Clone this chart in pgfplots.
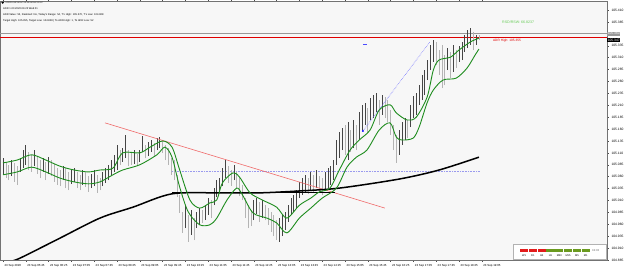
\documentclass[border=0pt]{standalone}
\usepackage{pgfplots}
\pgfplotsset{compat=1.18}
\usepackage{pgfplotstable}
\usepackage{fontspec}
\setmainfont{Liberation Sans}
\definecolor{mtgreen}{HTML}{1E8C1E}
\definecolor{trendred}{HTML}{F06A6A}
\definecolor{adrred}{HTML}{E00000}
\definecolor{lav}{HTML}{9A9AEE}
\definecolor{lightgreen}{HTML}{66CC55}
\definecolor{boxred}{HTML}{E31B1B}
\definecolor{boxgreen}{HTML}{6A9A1F}
\definecolor{bardark}{HTML}{454545}
\definecolor{barlight}{HTML}{B4B4B4}

\pgfplotstableread{
i hi lo c
0 105.099 105.064 1
1 105.091 105.057 0
2 105.085 105.053 0
3 105.095 105.061 1
4 105.089 105.049 0
5 105.082 105.043 0
6 105.099 105.070 1
7 105.116 105.078 1
8 105.127 105.085 1
9 105.112 105.074 0
10 105.106 105.070 0
11 105.116 105.082 1
12 105.103 105.066 0
13 105.095 105.057 0
14 105.099 105.070 1
15 105.091 105.053 0
16 105.101 105.066 1
17 105.095 105.061 0
18 105.087 105.049 0
19 105.078 105.043 0
20 105.074 105.040 0
21 105.082 105.053 1
22 105.078 105.036 0
23 105.070 105.032 0
24 105.074 105.045 1
25 105.078 105.049 1
26 105.070 105.036 0
27 105.064 105.032 0
28 105.074 105.043 1
29 105.070 105.038 0
30 105.061 105.028 0
31 105.066 105.036 1
32 105.074 105.040 1
33 105.064 105.026 0
34 105.057 105.032 0
35 105.070 105.040 1
36 105.078 105.047 1
37 105.085 105.053 1
38 105.095 105.061 1
39 105.106 105.070 1
40 105.127 105.074 1
41 105.116 105.085 0
42 105.120 105.091 1
43 105.148 105.099 1
44 105.116 105.082 0
45 105.112 105.085 0
46 105.116 105.087 1
47 105.108 105.082 0
48 105.116 105.091 1
49 105.145 105.112 1
50 105.127 105.099 0
51 105.133 105.103 1
52 105.137 105.112 1
53 105.131 105.103 0
54 105.141 105.116 1
55 105.143 105.120 1
56 105.137 105.110 0
57 105.127 105.095 0
58 105.120 105.085 0
59 105.099 105.064 0
60 105.095 105.053 0
61 105.064 105.017 0
62 105.022 104.984 0
63 104.986 104.942 0
64 105.000 104.952 1
65 104.980 104.923 0
66 104.990 104.938 1
67 104.973 104.927 0
68 104.986 104.952 1
69 104.994 104.959 1
70 104.990 104.963 0
71 105.000 104.969 1
72 105.015 104.980 1
73 105.011 104.973 0
74 105.036 105.000 1
75 105.053 105.017 1
76 105.057 105.028 1
77 105.078 105.040 1
78 105.095 105.057 1
79 105.082 105.047 0
80 105.074 105.040 0
81 105.085 105.053 1
82 105.070 105.036 0
83 105.057 105.019 0
84 105.043 105.011 0
85 105.015 104.973 0
86 105.000 104.952 0
87 104.990 104.956 0
88 105.011 104.969 1
89 105.015 104.982 1
90 105.007 104.965 0
91 105.011 104.973 1
92 105.000 104.969 0
93 104.994 104.959 0
94 104.986 104.944 0
95 104.980 104.935 0
96 104.969 104.927 0
97 104.973 104.923 1
98 104.980 104.935 1
99 104.986 104.948 1
100 105.000 104.965 1
101 105.015 104.980 1
102 105.022 104.986 1
103 105.032 104.994 1
104 105.049 105.015 1
105 105.057 105.022 1
106 105.064 105.028 1
107 105.057 105.024 0
108 105.070 105.032 1
109 105.064 105.028 0
110 105.074 105.036 1
111 105.061 105.026 0
112 105.057 105.022 0
113 105.070 105.032 1
114 105.078 105.036 1
115 105.082 105.043 1
116 105.095 105.053 1
117 105.137 105.085 1
118 105.154 105.099 1
119 105.162 105.116 1
120 105.169 105.106 0
121 105.175 105.095 1
122 105.158 105.112 0
123 105.179 105.120 1
124 105.169 105.116 0
125 105.196 105.137 1
126 105.211 105.158 1
127 105.215 105.169 1
128 105.204 105.152 0
129 105.225 105.179 1
130 105.232 105.183 1
131 105.236 105.196 1
132 105.221 105.169 0
133 105.232 105.190 1
134 105.227 105.183 0
135 105.221 105.175 0
136 105.200 105.148 0
137 105.169 105.116 0
138 105.148 105.089 0
139 105.158 105.106 1
140 105.175 105.127 1
141 105.183 105.137 1
142 105.179 105.141 0
143 105.211 105.164 1
144 105.229 105.183 1
145 105.236 105.190 1
146 105.252 105.211 1
147 105.274 105.221 1
148 105.284 105.232 1
149 105.305 105.263 1
150 105.337 105.284 1
151 105.347 105.301 1
152 105.343 105.295 0
153 105.326 105.274 0
154 105.337 105.246 0
155 105.315 105.252 0
156 105.330 105.284 1
157 105.322 105.267 0
158 105.337 105.280 1
159 105.326 105.288 0
160 105.334 105.301 1
161 105.343 105.305 1
162 105.358 105.322 1
163 105.368 105.330 1
164 105.372 105.337 1
165 105.364 105.326 0
166 105.358 105.337 1
167 105.358 105.347 0
}\bars

\pgfplotstableread{
x y
0 105.089
5 105.095
10 105.106
15 105.095
20 105.082
25 105.074
30 105.070
34 105.074
38.6 105.078
42 105.110
48 105.110
51.6 105.122
56 105.135
59.3 105.122
62 105.074
65.6 105.011
69 104.994
72.6 105.005
75 105.011
77 105.047
80.7 105.068
83 105.059
86.7 105.026
91 105.011
96 104.996
99.6 104.973
104 105.000
108 105.015
111 105.028
114.7 105.036
118 105.074
121.8 105.116
125 105.137
128.8 105.158
132 105.200
135.8 105.211
138 105.194
141.8 105.179
145 105.185
148.8 105.227
151 105.284
153 105.305
157 105.311
160 105.326
164 105.343
167 105.351
}\upperband

\pgfplotstableread{
x y
0 105.064
5 105.070
10 105.080
15 105.070
20 105.057
25 105.049
30 105.045
34 105.049
38.6 105.064
42 105.074
48 105.085
54 105.106
56.8 105.122
59.3 105.101
62 105.038
65 104.986
69 104.959
72.6 104.959
75 104.973
78.6 105.011
82 105.036
84 105.022
87.7 104.984
92.6 104.973
96 104.963
99.6 104.942
104 104.973
108 104.994
112 105.015
117 105.036
120.7 105.080
124 105.101
127.7 105.116
132 105.158
135.8 105.173
138 105.143
140 105.137
143.9 105.141
146 105.164
148.8 105.215
151 105.242
154.4 105.263
159 105.267
162.8 105.288
165.6 105.315
167 105.328
}\lowerband

\pgfplotstableread{
x y
2 104.881
6 104.889
20 104.931
34 104.973
45.6 104.996
59.3 105.024
76 105.026
90 105.026
104 105.030
118 105.036
139 105.055
153 105.074
167 105.101
}\maline

\begin{document}
\begin{tikzpicture}[x=1pt,y=1pt]
\begin{axis}[
  scale only axis, width=607pt, height=259pt,
  xmin=-1.053, xmax=211.93, ymin=104.885, ymax=105.429,
  clip mode=individual,
  axis background/.style={fill=black!3},
  axis line style={draw=black!55, line width=0.5pt},
  tick align=outside, major tick length=2pt,
  tick style={black!70, line width=0.4pt},
  yticklabel pos=right,
  ytick={104.885,104.910,104.935,104.960,104.985,105.010,105.035,105.060,105.085,105.110,105.135,105.160,105.185,105.210,105.235,105.260,105.285,105.310,105.335,105.385,105.410},
  yticklabel style={font=\fontsize{3.3}{4}\selectfont, /pgf/number format/fixed, /pgf/number format/fixed zerofill, /pgf/number format/precision=3, /pgf/number format/1000 sep={}, /pgf/number format/assume math mode=true, xshift=-1pt},
  xtick={0,8,...,168},
  xticklabels={23 Sep 2020, 23 Sep 05:45, 23 Sep 06:25, 23 Sep 07:05, 23 Sep 07:45, 23 Sep 08:25, 23 Sep 09:05, 23 Sep 09:45, 23 Sep 10:25, 23 Sep 11:05, 23 Sep 11:45, 23 Sep 12:25, 23 Sep 13:05, 23 Sep 13:45, 23 Sep 14:25, 23 Sep 15:05, 23 Sep 15:45, 23 Sep 16:25, 23 Sep 17:05, 23 Sep 17:45, 23 Sep 18:25, 23 Sep 19:05},
  xticklabel style={font=\fontsize{2.9}{3.5}\selectfont, anchor=north west, xshift=-2pt, yshift=1pt},
]
% reference lines
\addplot[black!40, line width=0.7pt, forget plot] coordinates {(-1.053,105.360) (211.93,105.360)};
\addplot[adrred, line width=0.7pt, forget plot] coordinates {(-1.053,105.352) (211.93,105.352)};
\addplot[lav, densely dotted, line width=0.6pt, forget plot] coordinates {(59.3,105.072) (167.4,105.072)};
% bars
\addplot[draw=none, mark=none, forget plot, restrict expr to domain={\thisrow{c}}{-0.5:0.5},
  error bars/.cd, y dir=plus, y explicit, error mark=none,
  error bar style={draw=barlight, line width=0.65pt}]
  table[x=i, y=lo, y error expr=\thisrow{hi}-\thisrow{lo}] {\bars};
\addplot[draw=none, mark=none, forget plot, restrict expr to domain={\thisrow{c}}{0.5:1.5},
  error bars/.cd, y dir=plus, y explicit, error mark=none,
  error bar style={draw=bardark, line width=0.65pt}]
  table[x=i, y=lo, y error expr=\thisrow{hi}-\thisrow{lo}] {\bars};
% trend lines
\addplot[trendred, line width=0.6pt] coordinates {(35.8,105.173) (134,104.994)};
\addplot[blue!55, densely dotted, line width=0.6pt] coordinates {(126.3,105.156) (149.8,105.343)};
\addplot[only marks, mark=*, mark size=0.7pt, blue] coordinates {(126.3,105.156)};
\addplot[blue!70, line width=0.5pt] coordinates {(126.3,105.339) (127.7,105.339)};
% moving averages
\addplot[black, line width=1.2pt] coordinates {(59.3,105.026) (116.5,105.026)};
\addplot[black, line width=1.5pt, smooth, tension=0.5] table[x=x,y=y] {\maline};
\addplot[mtgreen, line width=0.9pt, smooth, tension=0.5] table[x=x,y=y] {\upperband};
\addplot[mtgreen, line width=0.9pt, smooth, tension=0.5] table[x=x,y=y] {\lowerband};
% texts
\node[anchor=west, text=adrred, font=\fontsize{3.2}{4}\selectfont, inner sep=0] at (axis cs:171.9,105.346) {ADR High: 105.355};
\node[anchor=west, text=lightgreen, font=\fontsize{3.6}{4}\selectfont, inner sep=0] at (axis cs:175.1,105.385) {RSD/RSW: 66.8237};
\node[anchor=west, fill=black!40, text=white, font=\fontsize{3.3}{4}\selectfont, inner sep=0.6pt] at (axis cs:211.93,105.360) {105.360};
\node[anchor=west, fill=black, text=white, font=\fontsize{3.3}{4}\selectfont, inner sep=0.6pt] at (axis cs:211.93,105.347) {105.347};
\coordinate (ll) at (rel axis cs:0,0);
\end{axis}
\pgfresetboundingbox
\begin{scope}[shift={(ll)}, yshift=-10pt]
\path[use as bounding box] (0,0) rectangle (625,270);
% header text
\begin{scope}[every node/.style={anchor=west, inner sep=0, font=\fontsize{2.6}{3}\selectfont}]
\fill[black] (1.2,268) -- (4.2,268) -- (2.7,266) -- cycle;
\node at (5.5,266.8) {\resizebox{37pt}{!}{USDJPY-A,M5  105.347 105.358 105.340 105.347}};
\node at (3,261) {ADR 1.00 2020.09.23 Wed 01};
\node at (3,255.2) {ADR Value: 53, Realized: No, Today's Range: 54, T's High: 105.370, T's Low: 104.828};
\node at (3,249.4) {Target High: 105.355, Target Low: 104.828 | To ADR High: 1, To ADR Low: 52};
\end{scope}
% strength panel
\draw[black!30, fill=white, line width=0.4pt] (513,11) rectangle (606,26);
\foreach \k in {0,1,2} { \fill[boxred] (520+8.8*\k,17.5) rectangle (528.2+8.8*\k,20.5); }
\foreach \k in {3,4,5,6,7} { \fill[boxgreen] (520+8.8*\k,17.5) rectangle (528.2+8.8*\k,20.5); }
\foreach \k/\t in {0/W1,1/D1,2/H4,3/H1,4/M30,5/M15,6/M5,7/M1} { \node[font=\fontsize{2.6}{3}\selectfont, inner sep=0] at (524.1+8.8*\k,14) {\t}; }
\node[font=\fontsize{2.8}{3}\selectfont, inner sep=0, anchor=west, text=black!60] at (592,19) {04:03};
\end{scope}
\end{tikzpicture}
\end{document}
